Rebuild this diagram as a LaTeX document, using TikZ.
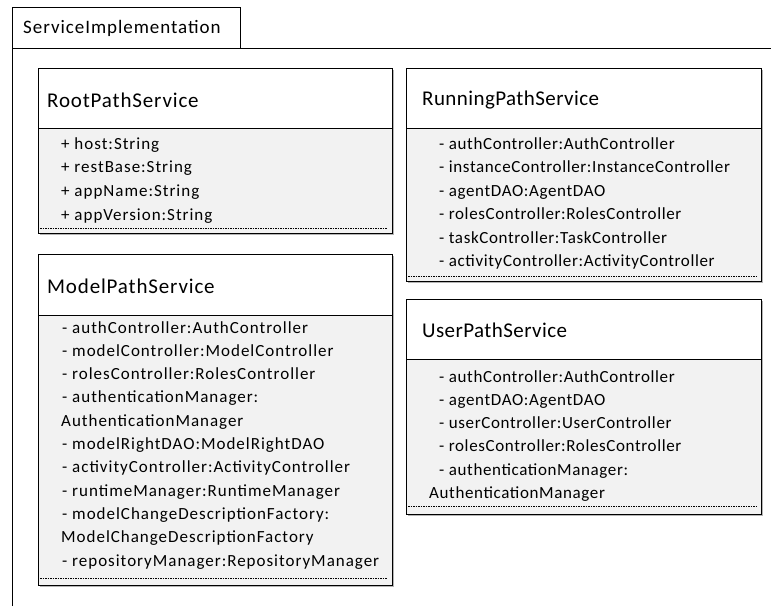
\documentclass[tikz,border=0pt]{standalone}
\usepackage{fontspec}
\setmainfont{Carlito}
% letter-spaced cuts of Carlito for the different text roles
\newfontfamily\tabfont[LetterSpace=5]{Carlito}
\newfontfamily\titlefontL[LetterSpace=4]{Carlito}
\newfontfamily\titlefontR[LetterSpace=2]{Carlito}
\newfontfamily\attrfontL[LetterSpace=5.8]{Carlito}
\newfontfamily\attrfontR[LetterSpace=3.7]{Carlito}
\definecolor{bodygray}{HTML}{F2F2F2}
\definecolor{shadowgray}{HTML}{B4B4B4}
\begin{document}
\begin{tikzpicture}[x=1pt,y=-1pt,
  pkg/.style={draw=black, line width=0.9pt},
  shadowbox/.style={fill=shadowgray, draw=none},
  headbox/.style={draw=black, line width=1pt, fill=white, inner sep=0pt, anchor=north west},
  bodybox/.style={draw=black, line width=1pt, fill=bodygray, inner sep=0pt, anchor=north west},
  titleL/.style={anchor=west, inner sep=0pt, font=\titlefontL\fontsize{21}{25}\selectfont},
  titleR/.style={anchor=west, inner sep=0pt, font=\titlefontR\fontsize{21}{25}\selectfont},
  attrL/.style={anchor=base west, inner sep=0pt, font=\attrfontL\fontsize{17}{20}\selectfont},
  attrR/.style={anchor=base west, inner sep=0pt, font=\attrfontR\fontsize{17}{20}\selectfont},
  dotline/.style={draw=black, line width=0.8pt, dash pattern=on 1.6pt off 0.9pt},
  tabtext/.style={anchor=west, inner sep=0pt, font=\tabfont\fontsize{19}{23}\selectfont}]
\useasboundingbox (0,0) rectangle (771,606);

% package frame with its name tab
\node[draw=black, line width=0.9pt, fill=white, inner sep=0pt, anchor=north west,
      minimum width=228pt, minimum height=41pt] (pkg-tab) at (12,7) {};
\node[tabtext] (pkg-name) at (23,28) {ServiceImplementation};
\draw[pkg] (12,606) -- (12,48) -- (771,48);

% ---------- RootPathService ----------
\fill[shadowbox] (39.5,69.5) rectangle (393.5,234.5);
\node[headbox, minimum width=354pt, minimum height=60pt] (root-head) at (38,68) {};
\node[bodybox, minimum width=354pt, minimum height=105pt] (root-body) at (38,128) {};
\node[titleL] (root-title) at (47,100) {RootPathService};
\foreach \t [count=\i] in {{+ host:String},{+ restBase:String},{+ appName:String},{+ appVersion:String}}
  \node[attrL] (root-a\i) at (61,149+23.7*\i-23.7) {\t};
\draw[dotline] (40,228) -- (387,228);

% ---------- RunningPathService ----------
\fill[shadowbox] (407.5,69.5) rectangle (762.5,282.5);
\node[headbox, minimum width=355pt, minimum height=60pt] (run-head) at (406,68) {};
\node[bodybox, minimum width=355pt, minimum height=153pt] (run-body) at (406,128) {};
\node[titleR] (run-title) at (422,100) {RunningPathService};
\foreach \t [count=\i] in {{- authController:AuthController},{- instanceController:InstanceController},{- agentDAO:AgentDAO},{- rolesController:RolesController},{- taskController:TaskController},{- activityController:ActivityController}}
  \node[attrR] (run-a\i) at (439,149+23.5*\i-23.5) {\t};
\draw[dotline] (408,276) -- (756,276);

% ---------- ModelPathService ----------
\fill[shadowbox] (39.5,255.5) rectangle (393.5,586.5);
\node[headbox, minimum width=354pt, minimum height=61pt] (model-head) at (38,254) {};
\node[bodybox, minimum width=354pt, minimum height=270pt] (model-body) at (38,315) {};
\node[titleL] (model-title) at (47,286) {ModelPathService};
\foreach \t/\x [count=\i] in {{- authController:AuthController}/62,{- modelController:ModelController}/62,{- rolesController:RolesController}/62,{- authenticationManager:}/62,{AuthenticationManager}/61,{- modelRightDAO:ModelRightDAO}/62,{- activityController:ActivityController}/62,{- runtimeManager:RuntimeManager}/62,{- modelChangeDescriptionFactory:}/62,{ModelChangeDescriptionFactory}/61,{- repositoryManager:RepositoryManager}/62}
  \node[attrL] (model-a\i) at (\x,333+23.3*\i-23.3) {\t};
\draw[dotline] (40,578) -- (387,578);

% ---------- UserPathService ----------
\fill[shadowbox] (407.5,300.5) rectangle (762.5,515.5);
\node[headbox, minimum width=355pt, minimum height=60pt] (user-head) at (406,299) {};
\node[bodybox, minimum width=355pt, minimum height=155pt] (user-body) at (406,359) {};
\node[titleR] (user-title) at (422,330) {UserPathService};
\foreach \t/\x [count=\i] in {{- authController:AuthController}/439,{- agentDAO:AgentDAO}/439,{- userController:UserController}/439,{- rolesController:RolesController}/439,{- authenticationManager:}/439,{AuthenticationManager}/429}
  \node[attrR] (user-a\i) at (\x,382+23.3*\i-23.3) {\t};
\draw[dotline] (408,506) -- (756,506);
\end{tikzpicture}
\end{document}
